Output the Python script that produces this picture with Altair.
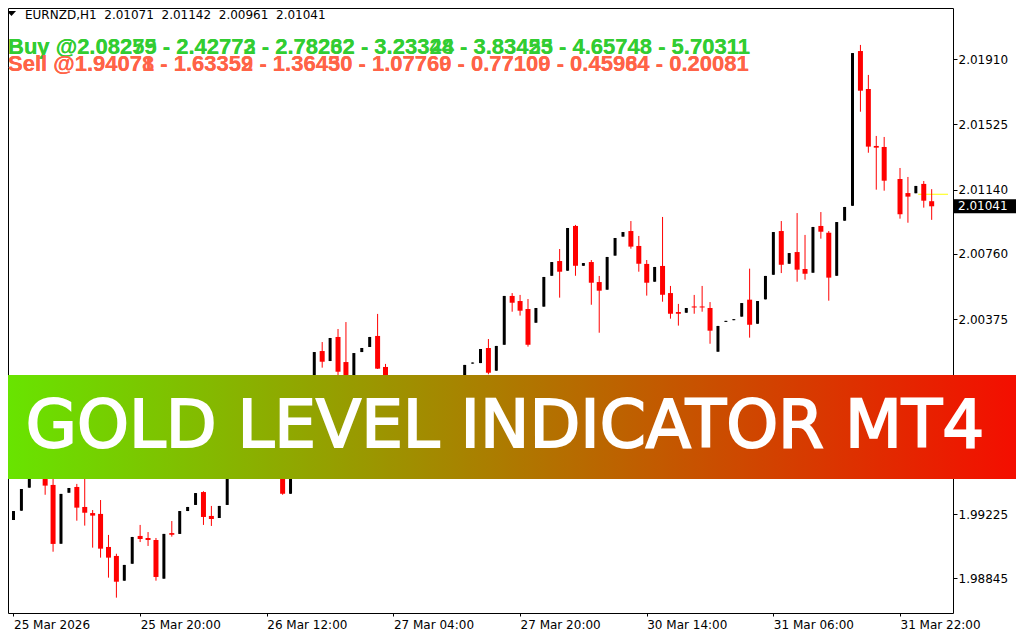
import json
import altair as alt
import pandas as pd

# ---------------- data ----------------
bar_index = list(range(117))

opens = [
    1.99190, 1.99245, 1.99381, 1.99574, 1.99662, 1.99397, 1.99050, 1.99351, 1.99385, 1.99267,
    1.99231, 1.99226, 1.99031, 1.98978, 1.98832, 1.98932, 1.99096, 1.99084, 1.99072, 1.98844,
    1.99113, 1.99108, 1.99243, 1.99279, 1.99355, 1.99214, 1.99202, 1.99279, 1.99485, 1.99662,
    1.99574, 1.99780, 1.99633, 1.99544, 1.99721, 1.99345, 1.99662, 1.99898, 1.99845, 2.00187,
    2.00128, 2.00270, 2.00122, 1.99957, 2.00181, 2.00211, 2.00276, 2.00093, 1.99928, 1.99780,
    1.99869, 1.99721, 1.99603, 1.99751, 1.99839, 1.99780, 1.99928, 1.99987, 2.00113, 2.00116,
    2.00205, 2.00071, 2.00224, 2.00512, 2.00482, 2.00435, 2.00354, 2.00449, 2.00631, 2.00718,
    2.00661, 2.00925, 2.00690, 2.00712, 2.00594, 2.00549, 2.00750, 2.00862, 2.00895, 2.00807,
    2.00701, 2.00596, 2.00689, 2.00529, 2.00417, 2.00413, 2.00450, 2.00450, 2.00441, 2.00183,
    2.00359, 2.00369, 2.00390, 2.00490, 2.00348, 2.00492, 2.00637, 2.00895, 2.00702, 2.00771,
    2.00671, 2.00649, 2.00925, 2.00885, 2.00631, 2.00956, 2.01044, 2.01957, 2.01733, 2.01397,
    2.01391, None, 2.01202, 2.01119, 2.01118, 2.01173, 2.01071,
]
highs = [
    1.99243, 1.99373, 1.99574, 1.99751, 1.99692, 1.99485, 1.99344, 1.99379, 1.99403, 1.99450,
    1.99249, 1.99308, 1.99102, 1.98991, 1.98925, 1.99090, 1.99161, 1.99119, 1.99084, 1.99108,
    1.99184, 1.99243, 1.99267, 1.99349, 1.99360, 1.99273, 1.99273, 1.99485, 1.99680, 1.99700,
    1.99800, 1.99810, 1.99650, 1.99740, 1.99740, 1.99662, 1.99910, 1.99920, 2.00181, 2.00240,
    2.00264, 2.00317, 2.00358, 2.00175, 2.00205, 2.00270, 2.00406, 2.00111, 1.99957, 1.99880,
    1.99890, 1.99740, 1.99770, 1.99860, 1.99850, 1.99940, 2.00000, 2.00105, 2.00119, 2.00199,
    2.00258, 2.00217, 2.00512, 2.00529, 2.00518, 2.00494, 2.00441, 2.00624, 2.00712, 2.00789,
    2.00913, 2.00931, 2.00706, 2.00724, 2.00630, 2.00742, 2.00854, 2.00889, 2.00954, 2.00866,
    2.00724, 2.00683, 2.00978, 2.00571, 2.00465, 2.00441, 2.00518, 2.00571, 2.00476, 2.00335,
    2.00365, 2.00375, 2.00470, 2.00673, 2.00482, 2.00630, 2.00889, 2.00954, 2.00765, 2.01001,
    2.00872, 2.00919, 2.01007, 2.00895, 2.00948, 2.01037, 2.01945, 2.01993, 2.01816, 2.01456,
    2.01450, None, 2.01267, 2.01214, 2.01161, 2.01190, 2.01142,
]
lows = [
    1.99190, 1.99245, 1.99381, 1.99544, 1.99339, 1.99003, 1.99050, 1.99351, 1.99186, 1.99157,
    1.99027, 1.98968, 1.98850, 1.98732, 1.98832, 1.98932, 1.99060, 1.99037, 1.98832, 1.98844,
    1.99092, 1.99108, 1.99243, 1.99279, 1.99161, 1.99155, 1.99202, 1.99279, 1.99470, 1.99550,
    1.99560, 1.99610, 1.99520, 1.99530, 1.99339, 1.99345, 1.99640, 1.99820, 1.99845, 2.00089,
    2.00128, 2.00034, 1.99910, 1.99957, 2.00181, 2.00211, 2.00081, 1.99898, 1.99751, 1.99760,
    1.99700, 1.99580, 1.99590, 1.99740, 1.99760, 1.99770, 1.99910, 1.99987, 2.00113, 2.00116,
    2.00050, 2.00071, 2.00224, 2.00419, 2.00396, 2.00213, 2.00354, 2.00449, 2.00631, 2.00502,
    2.00661, 2.00631, 2.00690, 2.00460, 2.00295, 2.00549, 2.00750, 2.00862, 2.00791, 2.00655,
    2.00514, 2.00596, 2.00478, 2.00378, 2.00337, 2.00413, 2.00407, 2.00419, 2.00230, 2.00183,
    2.00359, 2.00369, 2.00390, 2.00266, 2.00348, 2.00492, 2.00637, 2.00647, 2.00702, 2.00596,
    2.00608, 2.00649, 2.00850, 2.00484, 2.00631, 2.00956, 2.01044, 2.01599, 2.01357, 2.01139,
    2.01133, None, 2.00968, 2.00944, 2.01118, 2.01033, 2.00961,
]
closes = [
    1.99243, 1.99373, 1.99574, 1.99721, 1.99393, 1.99049, 1.99344, 1.99379, 1.99263, 1.99233,
    1.99216, 1.99021, 1.98968, 1.98826, 1.98925, 1.99090, 1.99078, 1.99072, 1.98854, 1.99108,
    1.99103, 1.99243, 1.99267, 1.99349, 1.99208, 1.99196, 1.99273, 1.99485, 1.99662, 1.99574,
    1.99780, 1.99633, 1.99544, 1.99721, 1.99345, 1.99662, 1.99898, 1.99839, 2.00181, 2.00124,
    2.00264, 2.00065, 1.99945, 2.00175, 2.00205, 2.00270, 2.00083, 1.99928, 1.99780, 1.99869,
    1.99721, 1.99603, 1.99751, 1.99839, 1.99780, 1.99928, 1.99987, 2.00105, 2.00119, 2.00199,
    2.00059, 2.00217, 2.00512, 2.00472, 2.00425, 2.00224, 2.00441, 2.00624, 2.00712, 2.00655,
    2.00913, 2.00690, 2.00706, 2.00590, 2.00543, 2.00742, 2.00854, 2.00889, 2.00803, 2.00702,
    2.00590, 2.00683, 2.00519, 2.00407, 2.00407, 2.00441, 2.00444, 2.00444, 2.00307, 2.00335,
    2.00365, 2.00375, 2.00470, 2.00342, 2.00482, 2.00630, 2.00889, 2.00696, 2.00765, 2.00667,
    2.00643, 2.00919, 2.00891, 2.00620, 2.00948, 2.01037, 2.01945, 2.01723, 2.01393, 2.01387,
    2.01192, None, 2.00994, 2.01098, 2.01161, 2.01074, 2.01041,
]

x_ticks = [0, 16, 32, 48, 64, 80, 96, 112]
x_labels = ["25 Mar 2026", "25 Mar 20:00", "26 Mar 12:00", "27 Mar 04:00",
            "27 Mar 20:00", "30 Mar 14:00", "31 Mar 06:00", "31 Mar 22:00"]
# price labels visible on the right scale (the two behind the banner are not shown)
y_ticks = [2.01910, 2.01525, 2.01140, 2.00760, 2.00375, 1.99225, 1.98845]

symbol_text = "EURNZD,H1\u00a0\u00a02.01071\u00a0\u00a02.01142\u00a0\u00a02.00961\u00a0\u00a02.01041"
buy_levels = ["2.08259", "2.42772", "2.78262", "3.23324", "3.83425", "4.65748", "5.70311"]
buy_levels_b = ["2.08275", "2.42773", "2.78232", "3.23348", "3.83453", "4.65743", "5.70311"]
sell_levels = ["1.94078", "1.63359", "1.36450", "1.07769", "0.77109", "0.45964", "0.20081"]
sell_levels_b = ["1.94071", "1.63352", "1.36430", "1.07760", "0.77100", "0.45984", "0.20081"]
banner_title = "GOLD LEVEL INDICATOR MT4"
last_close = 2.01041
marker_level = 2.01112
marker_start = 114.3

# ---------------- tables ----------------
rows = []
for i, o, h, l, c in zip(bar_index, opens, highs, lows, closes):
    if o is None:
        continue
    rows.append(dict(bar=i, open=o, high=h, low=l, close=c,
                     dir="up" if c >= o else "down"))
df = pd.DataFrame(rows)

W, H = 945, 605
X_MIN, X_MAX = -0.0625, 118.0625
xs = alt.Scale(domain=[X_MIN, X_MAX], nice=False, zero=False)
ys = alt.Scale(domain=[1.986414, 2.022109], nice=False, zero=False)
cs = alt.Scale(domain=["up", "down"], range=["#000000", "#ff0000"])

label_expr = "{}[indexof({}, datum.value)]".format(json.dumps(x_labels), json.dumps(x_ticks))
FONT = "DejaVu Sans"

x_axis = alt.Axis(values=x_ticks, labelExpr=label_expr, orient="bottom", title=None,
                  grid=False, domain=False, tickColor="black", tickSize=3,
                  labelFont=FONT, labelFontSize=12, labelColor="black",
                  labelAlign="left", labelBaseline="top", labelPadding=3,
                  labelFlush=False, labelOverlap=False, zindex=0)
y_axis = alt.Axis(values=y_ticks, format=".5f", orient="right", title=None,
                  grid=False, domain=False, tickColor="black", tickSize=4,
                  labelFont=FONT, labelFontSize=12, labelColor="black",
                  labelPadding=1, labelOverlap=False, labelFlush=False, zindex=0)


def X(field):
    return alt.X(field, scale=xs, axis=x_axis)


def Y(field):
    return alt.Y(field, scale=ys, axis=y_axis)


one = pd.DataFrame({"k": [0]})

level_df = pd.DataFrame({"x1": [marker_start], "x2": [X_MAX], "p": [marker_level]})
level_line = alt.Chart(level_df).mark_rule(color="#ffff00", strokeWidth=1).encode(
    x=X("x1:Q"), x2="x2:Q", y=Y("p:Q"),
)

wicks = alt.Chart(df).mark_rule(strokeWidth=1).encode(
    x=X("bar:Q"), y=Y("low:Q"), y2="high:Q",
    color=alt.Color("dir:N", scale=cs, legend=None),
)
up_bodies = alt.Chart(df).transform_filter("datum.dir == 'up'").mark_bar(width=3).encode(
    x=X("bar:Q"), y=Y("open:Q"), y2="close:Q",
    color=alt.Color("dir:N", scale=cs, legend=None),
)
down_bodies = alt.Chart(df).transform_filter("datum.dir == 'down'").mark_bar(width=5).encode(
    x=X("bar:Q"), y=Y("open:Q"), y2="close:Q",
    color=alt.Color("dir:N", scale=cs, legend=None),
)

price_df = pd.DataFrame({"p": [last_close], "t": ["%.5f" % last_close]})
price_box = alt.Chart(price_df).mark_rect(color="black", yOffset=-7, y2Offset=7).encode(
    x=alt.value(946), x2=alt.value(1008), y=Y("p:Q"), y2="p:Q",
)
price_text = alt.Chart(price_df).mark_text(
    font=FONT, fontSize=12, color="white", align="left", baseline="middle"
).encode(x=alt.value(950), y=Y("p:Q"), text="t:N")

tri = alt.Chart(one).mark_point(
    shape="M -1 -0.55 L 1 -0.55 L 0 0.55 Z", filled=True, size=81,
    color="black", opacity=1, strokeWidth=0
).encode(x=alt.value(3.5), y=alt.value(5.5))

header = alt.Chart(one).mark_text(
    text=symbol_text, font=FONT, fontSize=12, color="black",
    align="left", baseline="alphabetic"
).encode(x=alt.value(17), y=alt.value(10.5))


def level_text(label, levels, color, ybase):
    return alt.Chart(one).mark_text(
        text=label + " - ".join(levels), font="Liberation Sans", fontWeight="bold",
        fontSize=22, color=color, align="left", baseline="alphabetic"
    ).encode(x=alt.value(0), y=alt.value(ybase))


buy_b = level_text("Buy @", buy_levels_b, "#32CD32", 46)
buy_a = level_text("Buy @", buy_levels, "#32CD32", 46)
sell_b = level_text("Sell @", sell_levels_b, "#FF6347", 63)
sell_a = level_text("Sell @", sell_levels, "#FF6347", 63)

banner = alt.Chart(one).mark_rect(
    color=alt.Gradient(
        gradient="linear",
        stops=[alt.GradientStop(color="#68E400", offset=0),
               alt.GradientStop(color="#F40E00", offset=1)],
        x1=0, x2=1, y1=0, y2=0,
    )
).encode(x=alt.value(0), x2=alt.value(1008), y=alt.value(367), y2=alt.value(471))

banner_text = alt.Chart(one).mark_text(
    text=banner_title, font=FONT, fontSize=66, color="white",
    stroke="white", strokeWidth=2, align="center", baseline="alphabetic"
).encode(x=alt.value(497), y=alt.value(439))

chart = alt.layer(
    level_line, wicks, up_bodies, down_bodies, price_box, price_text,
    tri, header, buy_b, buy_a, sell_b, sell_a, banner, banner_text
).properties(
    width=W, height=H,
    autosize=alt.AutoSizeParams(type="none"),
    padding={"left": 0, "top": 0, "right": 63, "bottom": 17},
    background="white",
).configure_view(stroke="black", strokeWidth=1)

chart.save("out.html", embed_options={"renderer": "svg", "actions": False})
